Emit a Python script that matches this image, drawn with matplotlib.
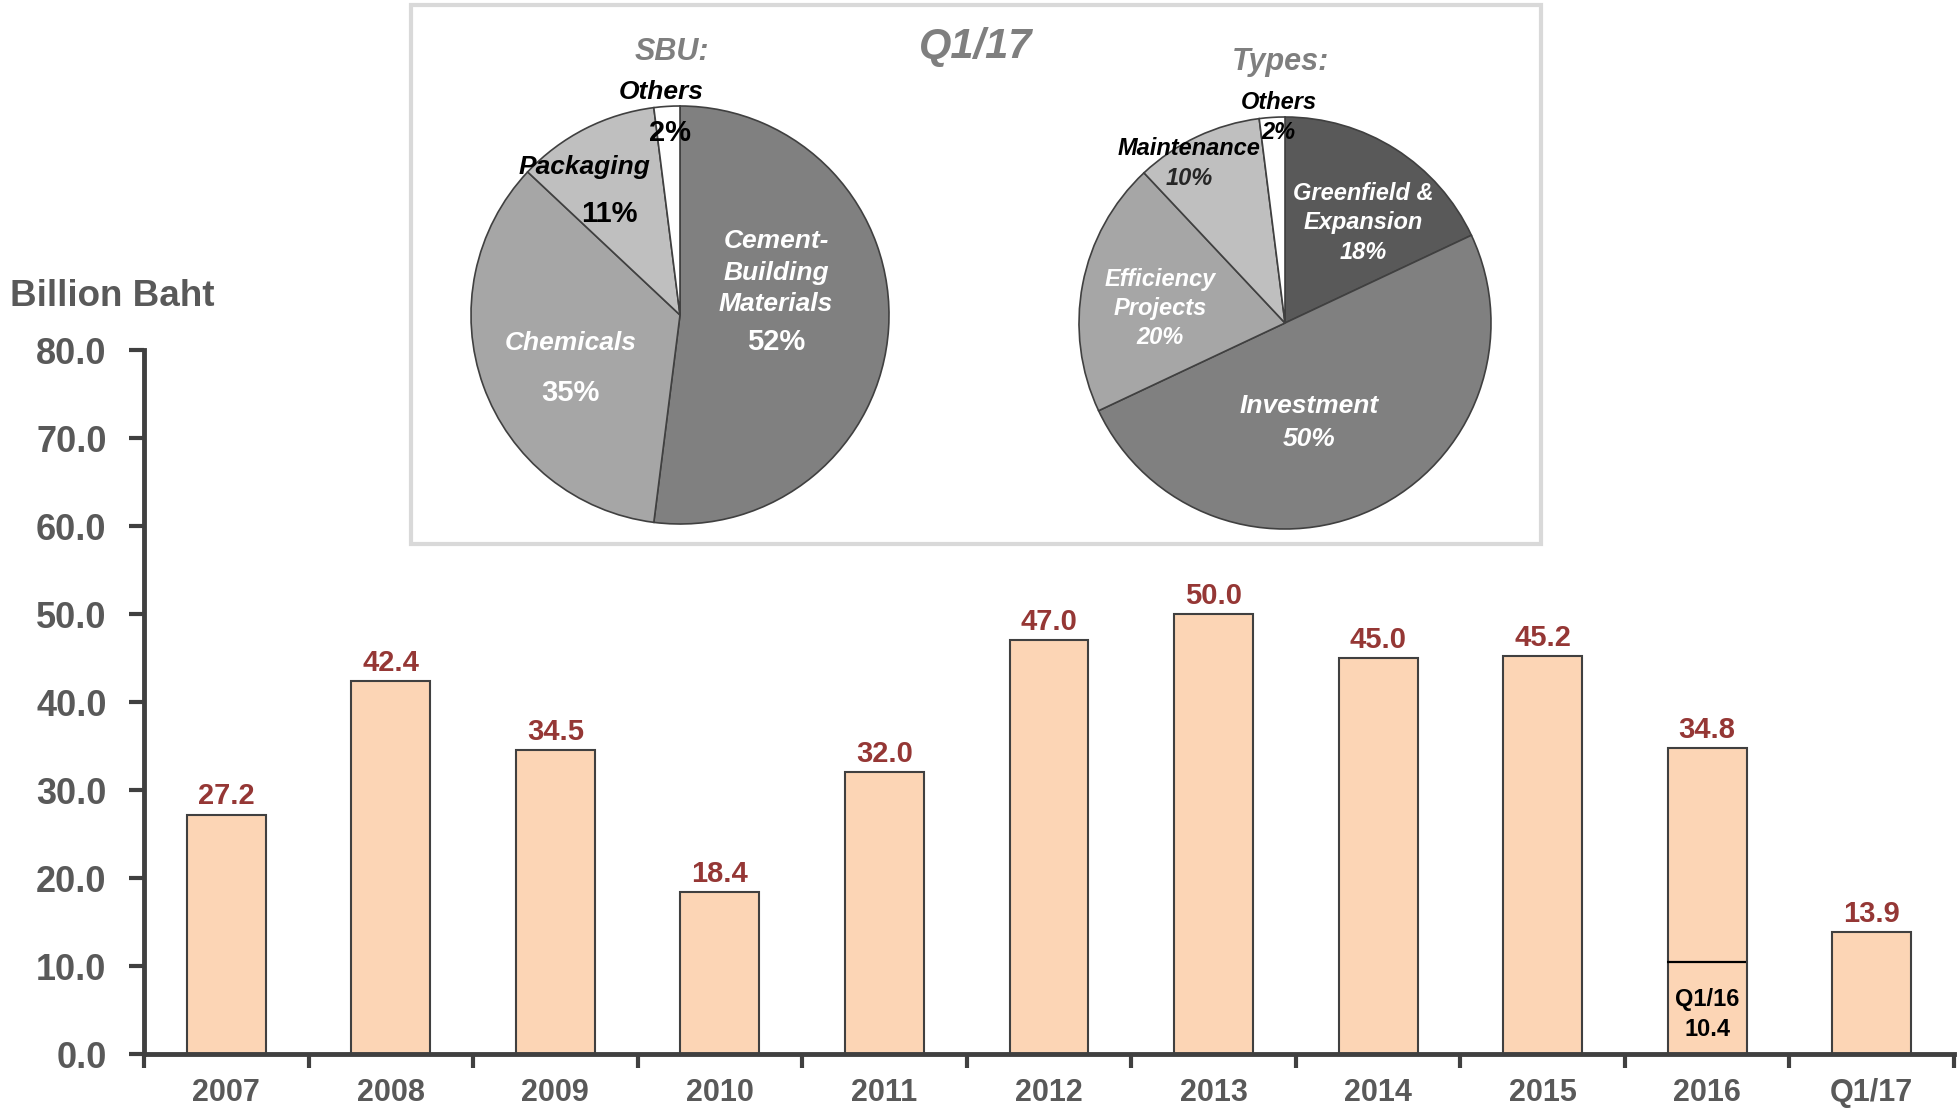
import matplotlib
matplotlib.use("Agg")
import matplotlib.pyplot as plt
from matplotlib.patches import Rectangle

plt.rcParams['font.family'] = ['Liberation Sans', 'DejaVu Sans']

# ---- data ----
categories = ["2007", "2008", "2009", "2010", "2011", "2012", "2013", "2014", "2015", "2016", "Q1/17"]
capex = [27.2, 42.4, 34.5, 18.4, 32.0, 47.0, 50.0, 45.0, 45.2, 34.8, 13.9]
q1_16_value = 10.4
q1_16_label = "Q1/16"

sbu_labels = ["Cement-\nBuilding\nMaterials", "Chemicals", "Packaging", "Others"]
sbu_shares = [52, 35, 11, 2]
type_labels = ["Greenfield &\nExpansion", "Investment", "Efficiency\nProjects", "Maintenance", "Others"]
type_shares = [18, 50, 20, 10, 2]
y_ticks = [0, 10, 20, 30, 40, 50, 60, 70, 80]

W, H = 1960, 1111
fig = plt.figure(figsize=(W / 100, H / 100), dpi=100)
fig.patch.set_facecolor("white")

GRAY_TXT = "#595959"
AX_COL = "#404040"
RED = "#953735"

# ---- bar chart ----
ax = fig.add_axes([144 / W, 1 - 1054 / H, 1810 / W, 704 / H])
ax.set_facecolor("none")
x = list(range(len(categories)))
bars = ax.bar(x, capex, width=0.48, color="#fcd5b5", edgecolor=AX_COL, linewidth=1.5, zorder=2)
ax.set_xlim(-0.5, len(categories) - 0.5)
ax.set_ylim(0, 80)
ax.set_yticks(y_ticks)
ax.set_yticklabels([f"{v:.1f}" for v in y_ticks])
ax.set_xticks(x)
ax.set_xticklabels(categories)
ax.set_xticks([i - 0.5 for i in range(len(categories) + 1)], minor=True)
ax.tick_params(axis="x", which="major", length=0, pad=17, labelsize=22, labelcolor=GRAY_TXT)
ax.tick_params(axis="x", which="minor", length=10, width=3, color=AX_COL, direction="out")
ax.tick_params(axis="y", which="major", length=11, width=3, color=AX_COL, pad=16,
               labelsize=26, labelcolor=GRAY_TXT)
for lab in ax.get_xticklabels() + ax.get_yticklabels():
    lab.set_fontweight("bold")
for s in ["top", "right"]:
    ax.spines[s].set_visible(False)
for s in ["left", "bottom"]:
    ax.spines[s].set_color(AX_COL)
    ax.spines[s].set_linewidth(3.5)

for xi, v in zip(x, capex):
    ax.annotate(f"{v:.1f}", (xi, v), xytext=(0, 3), textcoords="offset points",
                ha="center", va="bottom", fontsize=21, fontweight="bold", color=RED)

i16 = categories.index("2016")
ax.hlines(q1_16_value, i16 - 0.245, i16 + 0.235, color="black", linewidth=1.6, zorder=3)
ax.text(i16, q1_16_value - 2.9, f"{q1_16_label}\n{q1_16_value:.1f}", ha="center", va="top",
        fontsize=17, fontweight="bold", color="black", linespacing=1.4, zorder=3)

fig.text(10 / W, 1 - 297 / H, "Billion Baht", ha="left", va="center",
         fontsize=26.5, fontweight="bold", color=GRAY_TXT)

# ---- inset box ----
fig.patches.append(Rectangle((411 / W, 1 - 544 / H), 1130 / W, 539 / H, transform=fig.transFigure,
                             fill=False, edgecolor="#d9d9d9", linewidth=3))
fig.text(976 / W, 1 - 47 / H, "Q1/17", ha="center", va="center", fontsize=30,
         fontweight="bold", fontstyle="italic", color="#7f7f7f")


def pie_axes(cx, cy, r):
    a = fig.add_axes([(cx - r) / W, 1 - (cy + r) / H, 2 * r / W, 2 * r / H])
    a.set_xlim(-1, 1)
    a.set_ylim(-1, 1)
    a.axis("off")
    return a


def lbl(a, dx, dy, s, color, size, italic=True, weight="bold", ls=1.15):
    a.text(dx, dy - 0.012, s, ha="center", va="center", color=color, fontsize=size,
           fontweight=weight, fontstyle="italic" if italic else "normal", linespacing=ls)


# SBU pie
pa = pie_axes(680, 315, 209)
wedges, _ = pa.pie(sbu_shares, startangle=90, counterclock=False, radius=1,
                   colors=["#808080", "#a6a6a6", "#bfbfbf", "#ffffff"],
                   wedgeprops=dict(edgecolor=AX_COL, linewidth=1.2))
for w in wedges:
    w.set_clip_on(False)
pa.set_xlim(-1, 1); pa.set_ylim(-1, 1)
lbl(pa, -0.04, 1.268, "SBU:", "#7f7f7f", 22)
lbl(pa, -0.09, 1.077, sbu_labels[3], "black", 19)
lbl(pa, -0.05, 0.885, f"{sbu_shares[3]}%", "black", 21, italic=False)
lbl(pa, -0.455, 0.718, sbu_labels[2], "black", 19)
lbl(pa, -0.34, 0.493, f"{sbu_shares[2]}%", "black", 21, italic=False)
lbl(pa, 0.459, 0.215, sbu_labels[0], "white", 19, ls=1.38)
lbl(pa, 0.459, -0.115, f"{sbu_shares[0]}%", "white", 21, italic=False)
lbl(pa, -0.522, -0.124, sbu_labels[1], "white", 19)
lbl(pa, -0.522, -0.359, f"{sbu_shares[1]}%", "white", 21, italic=False)

# Types pie
pb = pie_axes(1285, 323, 206)
wedges, _ = pb.pie(type_shares, startangle=90, counterclock=False, radius=1,
                   colors=["#595959", "#808080", "#a6a6a6", "#bfbfbf", "#ffffff"],
                   wedgeprops=dict(edgecolor=AX_COL, linewidth=1.2))
for w in wedges:
    w.set_clip_on(False)
pb.set_xlim(-1, 1); pb.set_ylim(-1, 1)
lbl(pb, -0.02, 1.277, "Types:", "#7f7f7f", 22)
lbl(pb, -0.03, 1.083, type_labels[4], "black", 17)
lbl(pb, -0.034, 0.937, f"{type_shares[4]}%", "black", 17)
lbl(pb, -0.466, 0.859, type_labels[3], "black", 17)
lbl(pb, -0.466, 0.714, f"{type_shares[3]}%", "#262626", 17)
lbl(pb, 0.379, 0.57, type_labels[0], "white", 17, ls=1.32)
lbl(pb, 0.379, 0.354, f"{type_shares[0]}%", "white", 17)
lbl(pb, -0.607, 0.153, type_labels[2], "white", 17, ls=1.32)
lbl(pb, -0.607, -0.058, f"{type_shares[2]}%", "white", 17)
lbl(pb, 0.117, -0.393, type_labels[1], "white", 19)
lbl(pb, 0.117, -0.549, f"{type_shares[1]}%", "white", 19)

fig.savefig("out.png", dpi=100)
